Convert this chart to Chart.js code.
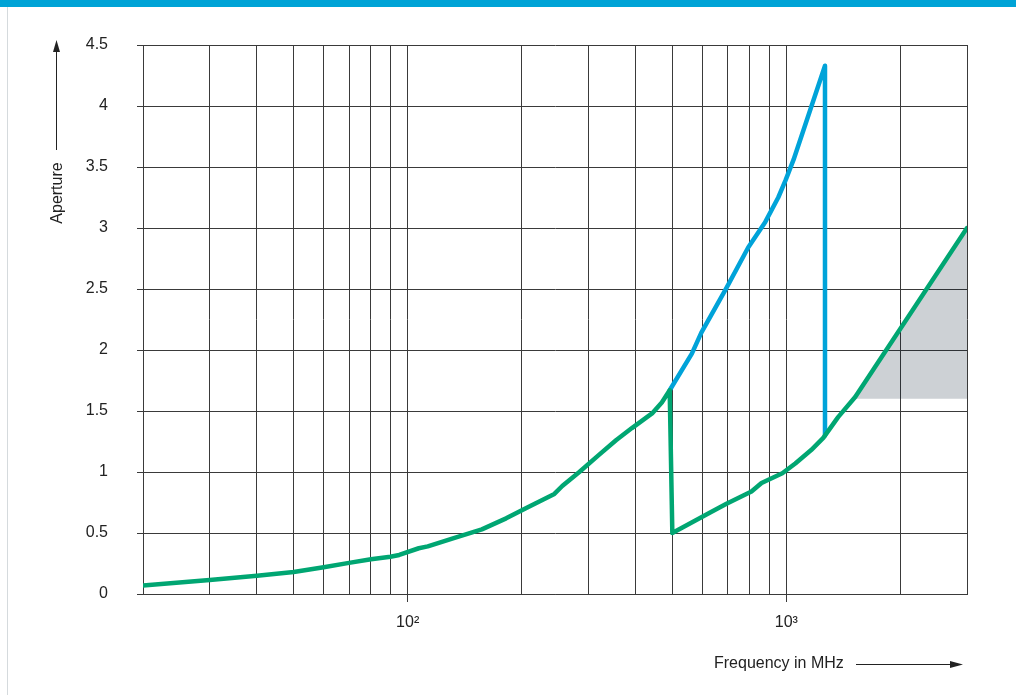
<!DOCTYPE html>
<html>
<head>
<meta charset="utf-8">
<script src="https://cdn.jsdelivr.net/npm/chart.js@4"></script>
<style>
  html, body { margin: 0; padding: 0; background: #fff; }
  #wrap { position: relative; width: 1016px; height: 695px; overflow: hidden; }
  #band { position: absolute; left: 0; top: 0; width: 1016px; height: 7px; background: #00a3d6; }
  #edge { position: absolute; left: 7px; top: 7px; width: 1px; height: 688px; background: #d5dadd; }
  canvas { position: absolute; left: 0; top: 0; }
</style>
</head>
<body>
<div id="wrap">
  <canvas id="myChart" width="1016" height="695"></canvas>
  <div id="band"></div>
  <div id="edge"></div>
</div>
<script>
/* Data */
const greenFreq = [20, 30, 40, 50, 60, 70, 80, 90, 95, 107, 113, 133, 157, 182, 207, 244, 256, 284, 320, 355, 391, 442, 469, 492,
                   500, 631, 695, 809, 860, 976, 1056, 1163, 1252, 1370, 1520, 3000];
const greenAperture = [0.07, 0.115, 0.15, 0.18, 0.22, 0.255, 0.285, 0.305, 0.32, 0.375, 0.39, 0.46, 0.53, 0.62, 0.71, 0.82, 0.885, 1.0, 1.14, 1.26, 1.36, 1.48, 1.57, 1.67,
                       0.5, 0.67, 0.74, 0.84, 0.91, 0.99, 1.07, 1.18, 1.28, 1.45, 1.615, 3.0];

const blueFreq = [492, 563, 596, 695, 793, 880, 952, 995, 1045, 1265, 1265];
const blueAperture = [1.67, 1.97, 2.14, 2.51, 2.84, 3.05, 3.25, 3.39, 3.56, 4.33, 1.3];

// grey area: above 1.6, right of the green line
const shadeFreq = [1500, 3000];
const shadeAperture = [1.6, 3.0];
const shadeBase = 1.6;

const xGridValues = [20, 30, 40, 50, 60, 70, 80, 90, 100, 200, 300, 400, 500, 600, 700, 800, 900, 1000, 2000, 3000];
const xLabelValues = [100, 1000];
const xLabelText = ['10²', '10³'];

const yTickValues = [0, 0.5, 1, 1.5, 2, 2.5, 3, 3.5, 4, 4.5];
const yTickLabels = ['0', '0.5', '1', '1.5', '2', '2.5', '3', '3.5', '4', '4.5'];

const FONT = "'Liberation Sans', Arial, sans-serif";
const gridColor = '#3a3a3a';

function toPoints(xs, ys) {
    return xs.map((x, i) => ({ x: x, y: ys[i] }));
}

/* axis titles with arrows */
const axisNotes = {
    id: 'axisNotes',
    afterDraw(chart) {
        const c = chart.ctx;
        c.save();
        c.fillStyle = '#222';
        c.strokeStyle = '#222';
        c.lineWidth = 1;
        c.font = '16px ' + FONT;

        // y title
        c.save();
        c.translate(62, 193);
        c.rotate(-Math.PI / 2);
        c.textAlign = 'center';
        c.textBaseline = 'alphabetic';
        c.fillText('Aperture', 0, 0);
        c.restore();
        c.beginPath();
        c.moveTo(56.5, 150);
        c.lineTo(56.5, 50);
        c.stroke();
        c.beginPath();
        c.moveTo(56.5, 40);
        c.lineTo(53, 52);
        c.lineTo(60, 52);
        c.closePath();
        c.fill();

        // x title
        c.textAlign = 'left';
        c.textBaseline = 'middle';
        c.fillText('Frequency in MHz', 714, 664);
        c.beginPath();
        c.moveTo(856, 664.5);
        c.lineTo(952, 664.5);
        c.stroke();
        c.beginPath();
        c.moveTo(963, 664.5);
        c.lineTo(950, 661);
        c.lineTo(950, 668);
        c.closePath();
        c.fill();
        c.restore();
    }
};

new Chart(document.getElementById('myChart'), {
    type: 'line',
    data: {
        datasets: [{
            label: 'shade',
            data: toPoints(shadeFreq, shadeAperture),
            borderWidth: 0,
            pointRadius: 0,
            backgroundColor: 'rgba(5, 25, 45, 0.2)',
            fill: { value: shadeBase },
            order: 3
        }, {
            label: 'blue',
            data: toPoints(blueFreq, blueAperture),
            borderColor: '#00a3d9',
            borderWidth: 4.5,
            borderJoinStyle: 'round',
            borderCapStyle: 'round',
            pointRadius: 0,
            fill: false,
            order: 2
        }, {
            label: 'green',
            data: toPoints(greenFreq, greenAperture),
            borderColor: '#00a672',
            borderWidth: 4.5,
            borderJoinStyle: 'round',
            borderCapStyle: 'round',
            pointRadius: 0,
            fill: false,
            order: 1
        }]
    },
    options: {
        responsive: false,
        animation: false,
        layout: { padding: { top: 45, right: 49, left: 0, bottom: 0 } },
        plugins: {
            legend: { display: false },
            tooltip: { enabled: false }
        },
        scales: {
            x: {
                type: 'logarithmic',
                min: 20,
                max: 3000,
                afterBuildTicks: (scale) => { scale.ticks = xGridValues.map(v => ({ value: v })); },
                afterFit: (scale) => { scale.height = 101; },
                border: { color: gridColor, width: 1 },
                grid: {
                    color: gridColor,
                    lineWidth: 1,
                    tickLength: 8,
                    tickColor: (ctx) => (ctx.tick && xLabelValues.includes(ctx.tick.value)) ? gridColor : 'rgba(0,0,0,0)'
                },
                ticks: {
                    autoSkip: false,
                    maxRotation: 0,
                    padding: 11,
                    color: '#222',
                    font: { family: FONT, size: 16 },
                    callback: (value) => {
                        const i = xLabelValues.indexOf(value);
                        return i >= 0 ? xLabelText[i] : '';
                    }
                }
            },
            y: {
                min: 0,
                max: 4.5,
                afterBuildTicks: (scale) => { scale.ticks = yTickValues.map(v => ({ value: v })); },
                afterFit: (scale) => { scale.width = 143; },
                border: { color: gridColor, width: 1 },
                grid: {
                    color: gridColor,
                    lineWidth: 1,
                    tickLength: 6,
                    tickColor: gridColor
                },
                ticks: {
                    padding: 29,
                    color: '#222',
                    font: { family: FONT, size: 16 },
                    callback: (value) => {
                        const i = yTickValues.indexOf(value);
                        return i >= 0 ? yTickLabels[i] : '';
                    }
                }
            }
        }
    },
    plugins: [axisNotes]
});
</script>
</body>
</html>
